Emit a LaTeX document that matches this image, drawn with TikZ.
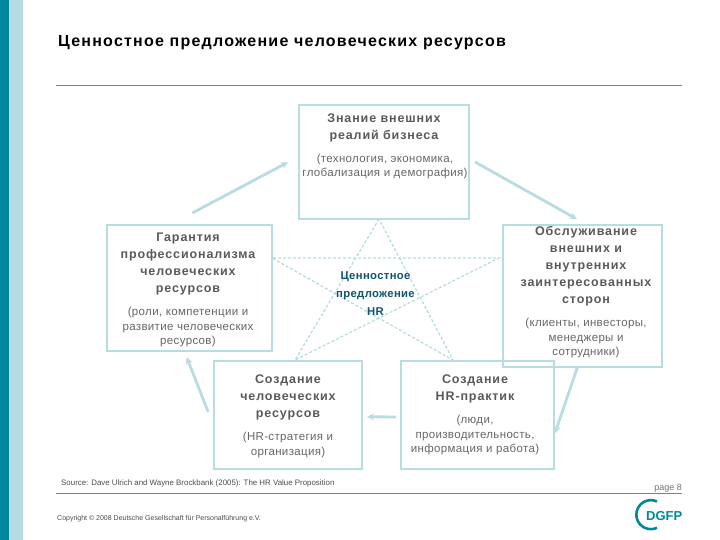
\documentclass[tikz,border=0pt]{standalone}
\usepackage{fontspec}
\setmainfont{Liberation Sans}
\usetikzlibrary{arrows.meta}
\definecolor{bartl}{HTML}{00899E}
\definecolor{barlt}{HTML}{B5DBE3}
\definecolor{boxln}{HTML}{B9DCE2}
\definecolor{hrtxt}{HTML}{0F566E}

\begin{document}
\begin{tikzpicture}[
		x=1pt,y=-1pt,
		box/.style={draw=boxln,line width=2pt,inner sep=0pt,outer sep=0pt,anchor=north west},
		head/.style={anchor=north,align=center,inner sep=0pt,text=black!65,
			font=\bfseries\fontsize{12.5}{17}\selectfont\addfontfeature{LetterSpace=7}},
		sub/.style={anchor=north,align=center,inner sep=0pt,text=black!60,
			font=\fontsize{11.5}{14.5}\selectfont\addfontfeature{LetterSpace=3}},
		flow/.style={-{Stealth[length=7pt,width=7pt]},line width=2.8pt,boxln},
		star/.style={densely dashed,line width=1.3pt,boxln},
		rule/.style={line width=0.8pt,black!50}
		]
		\useasboundingbox (0,0) rectangle (720,540);
		% ===== Side bars =====
		\fill[bartl] (0,0) rectangle (9,540);
		\fill[barlt] (9,0) rectangle (23,540);
		% ===== Title and rules =====
		\node[anchor=base west,inner sep=0pt,font=\bfseries\fontsize{16}{18}\selectfont\addfontfeature{LetterSpace=7.7}] (title) at (58,47)
		{Ценностное предложение человеческих ресурсов};
		\draw[rule] (56,85) -- (682,85);
		\draw[rule] (56,493) -- (682,493);
		% ===== Star =====
		\coordinate (starT) at (379,219);
		\coordinate (starL) at (272,258);
		\coordinate (starR) at (499,258);
		\coordinate (starA) at (295,360);
		\coordinate (starB) at (453,360);
		\draw[star] (starT) -- (starA) -- (starR) -- (starL) -- (starB) -- cycle;
		% ===== Boxes =====
		\node[box,minimum width=170.5pt,minimum height=113.5pt] (know) at (298.5,105.5) {};
		\node[box,minimum width=164.5pt,minimum height=126pt] (assure) at (107,225) {};
		\node[box,minimum width=159pt,minimum height=142pt] (serve) at (503,225) {};
		\node[box,minimum width=148pt,minimum height=108.5pt] (people) at (214,360.5) {};
		\node[box,minimum width=153pt,minimum height=108pt] (practice) at (401,361) {};
		% ===== Box texts =====
		\node[head] (knowh) at (384,114) {Знание внешних\\реалий бизнеса};
		\node[sub] (knows) at (385,153.5) {(технология, экономика,\\глобализация и демография)};
		\node[head] (assureh) at (188,233) {Гарантия\\профессионализма\\человеческих\\ресурсов};
		\node[sub] (assures) at (188,307) {(роли, компетенции и\\развитие человеческих\\ресурсов)};
		\node[head] (serveh) at (586,226) {Обслуживание\\внешних и\\внутренних\\заинтересованных\\сторон};
		\node[sub] (serves) at (586,318) {(клиенты, инвесторы,\\менеджеры и\\сотрудники)};
		\node[head] (peopleh) at (288,375) {Создание\\человеческих\\ресурсов};
		\node[sub] (peoples) at (288,432) {(HR-стратегия и\\организация)};
		\node[head] (practiceh) at (475,375) {Создание\\HR-практик};
		\node[sub] (practices) at (475,415) {(люди,\\производительность,\\информация и работа)};
		\node[head,text=hrtxt,font=\bfseries\fontsize{11.3}{18}\selectfont\addfontfeature{LetterSpace=3}] (hr) at (375.5,272)
		{Ценностное\\предложение\\HR};
		% ===== Flow arrows =====
		\draw[flow,shorten <=25.6pt,shorten >=11.9pt] ([xshift=-19.6pt]assure.north) -- ([yshift=5.6pt]know.west);
		\draw[flow,shorten <=6.9pt,shorten >=12.3pt] ([yshift=3.6pt]know.east) -- ([xshift=5pt]serve.north);
		\draw[flow,shorten <=1pt,shorten >=3.2pt] ([xshift=-5pt]serve.south) -- ([yshift=-21pt]practice.east);
		\draw[flow,shorten <=5pt,shorten >=5pt] ([yshift=-2pt]practice.west) -- ([yshift=-2pt]people.east);
		\draw[flow,shorten <=16pt,shorten >=6.5pt] ([yshift=-12pt]people.west) -- ([xshift=-5pt]assure.south);
		% ===== Footer =====
		\node[anchor=base west,inner sep=0pt,text=black!70,font=\fontsize{7.9}{9}\selectfont] (source) at (61,485)
		{Source: Dave Ulrich and Wayne Brockbank (2005): The HR Value Proposition};
		\node[anchor=base west,inner sep=0pt,text=black!70,font=\fontsize{7}{8}\selectfont] (copy) at (57,520)
		{Copyright © 2008 Deutsche Gesellschaft für Personalführung e.V.};
		\node[anchor=base east,inner sep=0pt,text=black!55,font=\fontsize{9}{10}\selectfont] (page) at (682,490) {page 8};
		% ===== Logo =====
		\draw[bartl,line width=2.6pt] (657,501.5) arc[start angle=-65,end angle=-295,radius=14.5];
		\node[anchor=base west,inner sep=0pt,text=bartl,font=\bfseries\fontsize{13}{14}\selectfont] (logo) at (646,520) {DGFP};
	\end{tikzpicture}
\end{document}
